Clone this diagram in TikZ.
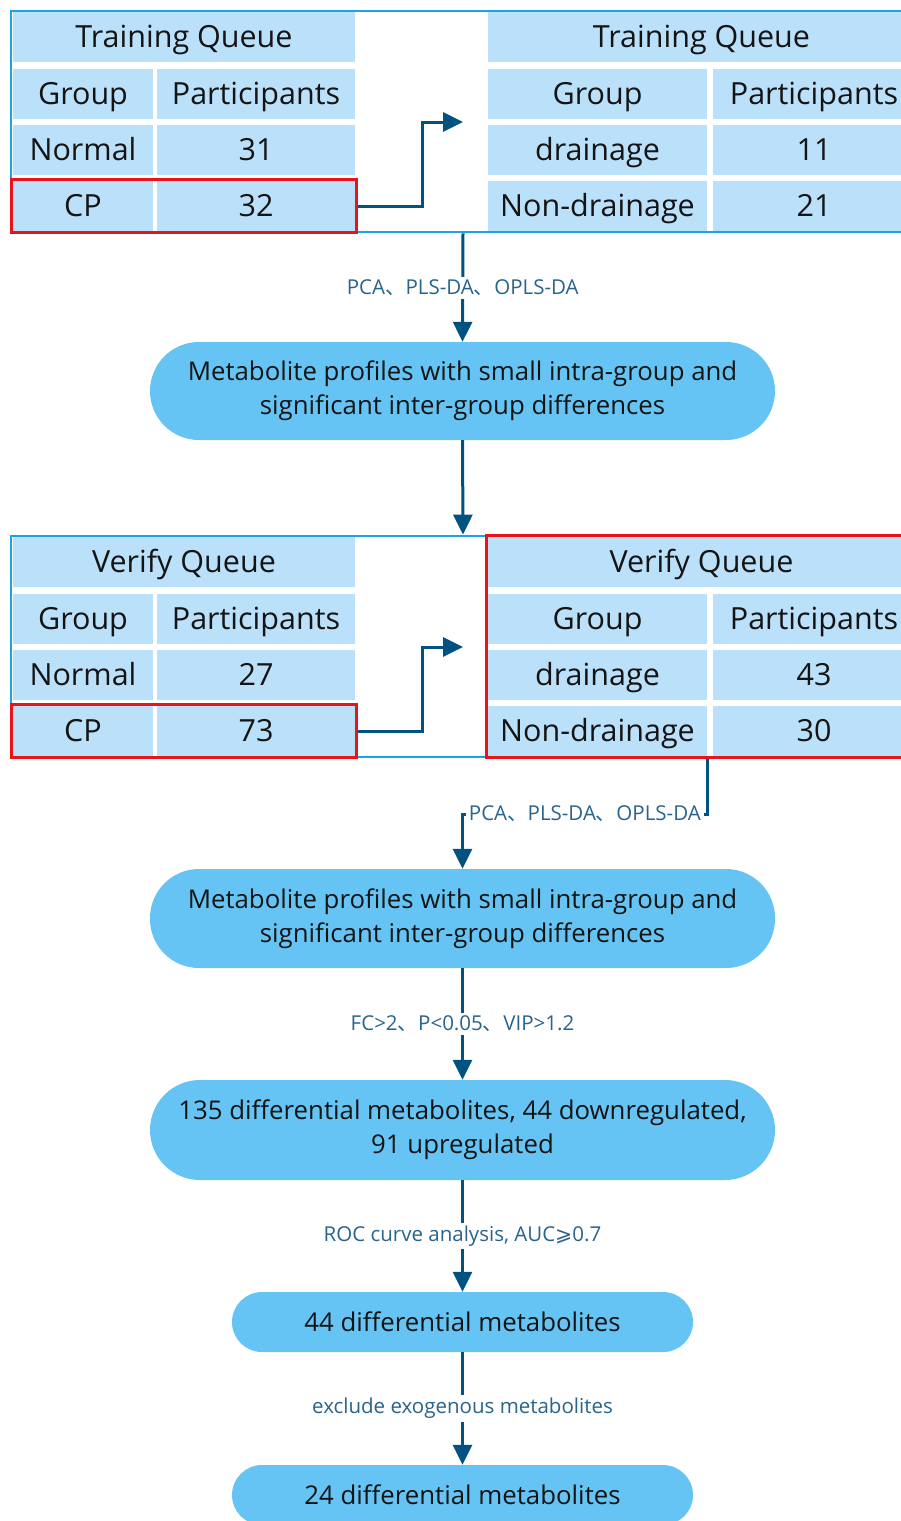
\documentclass[tikz,border=0pt]{standalone}
\usepackage{fontspec}
\setmainfont{Open Sans}
\newfontfamily\cjk{Noto Sans CJK SC}
\newfontfamily\symfont{DejaVu Sans}
\usepackage{tikz}
\usepackage{xcolor}
\usetikzlibrary{arrows.meta,fit}
\definecolor{cellblue}{RGB}{187,224,250}
\definecolor{pillblue}{RGB}{102,196,244}
\definecolor{frameblue}{RGB}{26,163,232}
\definecolor{arrowblue}{RGB}{0,82,128}
\definecolor{noteblue}{RGB}{40,100,140}
\definecolor{markred}{RGB}{232,20,27}
\newcommand{\dun}{{\cjk 、}}
\tikzset{
    table-cell/.style = {fill=cellblue, rectangle, inner sep=0pt, minimum height=50pt, text height=21.8pt, text depth=0pt, text=black!92, font=\fontsize{30.5}{36}\selectfont},
    panel-frame/.style = {draw=frameblue, line width=2.8pt, rectangle, inner sep=0pt},
    mark-box/.style = {draw=markred, line width=2.8pt, rectangle, inner sep=1.5pt},
    pill-box/.style = {fill=pillblue, rectangle, rounded corners=#1, inner sep=0pt, align=center, text=black!92, font=\fontsize{25.8}{34}\selectfont},
    flow/.style = {draw=arrowblue, line width=3pt, -{Triangle[length=20pt,width=19pt]}},
    note/.style = {fill=white, text=noteblue, inner sep=3pt, font=\fontsize{20.5}{24}\selectfont},
}

\begin{document}
\begin{tikzpicture}[x=1pt,y=-1pt]
\clip (0,0) rectangle (901,1521);

\node[table-cell, minimum width=342] (tl-title) at (184,37) {Training Queue};
\node[table-cell, minimum width=140] (tl-group) at (83,94) {Group};
\node[table-cell, minimum width=198] (tl-part) at (256,94) {Participants};
\node[table-cell, minimum width=140] (tl-normal) at (83,150) {Normal};
\node[table-cell, minimum width=198] (tl-normal-n) at (256,150) {31};
\node[table-cell, minimum width=140] (tl-cp) at (83,206) {CP};
\node[table-cell, minimum width=198] (tl-cp-n) at (256,206) {32};

\node[table-cell, minimum width=427] (tr-title) at (701.5,37) {Training Queue};
\node[table-cell, minimum width=219] (tr-group) at (597.5,94) {Group};
\node[table-cell, minimum width=202] (tr-part) at (814,94) {Participants};
\node[table-cell, minimum width=219] (tr-dr) at (597.5,150) {drainage};
\node[table-cell, minimum width=202] (tr-dr-n) at (814,150) {11};
\node[table-cell, minimum width=219] (tr-nd) at (597.5,206) {Non-drainage};
\node[table-cell, minimum width=202] (tr-nd-n) at (814,206) {21};

\node[panel-frame, minimum width=904, minimum height=221] (train-frame) at (463,121.5) {};
\node[mark-box, fit=(tl-cp)(tl-cp-n)] (tl-mark) {};
\coordinate (train-tip) at (463,122);
\draw[flow] (tl-mark.east) -- ++(64,0) |- (train-tip);

\node[pill-box=49pt, minimum width=625, minimum height=98] (prof-a) at (462.5,391) {Metabolite profiles with small intra-group and\\significant inter-group differences};
\draw[flow] (train-frame.south) -- node[note] {PCA\dun PLS-DA\dun OPLS-DA} (prof-a.north);

\node[table-cell, minimum width=342] (vl-title) at (184,562) {Verify Queue};
\node[table-cell, minimum width=140] (vl-group) at (83,619) {Group};
\node[table-cell, minimum width=198] (vl-part) at (256,619) {Participants};
\node[table-cell, minimum width=140] (vl-normal) at (83,675) {Normal};
\node[table-cell, minimum width=198] (vl-normal-n) at (256,675) {27};
\node[table-cell, minimum width=140] (vl-cp) at (83,731) {CP};
\node[table-cell, minimum width=198] (vl-cp-n) at (256,731) {73};

\node[table-cell, minimum width=427] (vr-title) at (701.5,562) {Verify Queue};
\node[table-cell, minimum width=219] (vr-group) at (597.5,619) {Group};
\node[table-cell, minimum width=202] (vr-part) at (814,619) {Participants};
\node[table-cell, minimum width=219] (vr-dr) at (597.5,675) {drainage};
\node[table-cell, minimum width=202] (vr-dr-n) at (814,675) {43};
\node[table-cell, minimum width=219] (vr-nd) at (597.5,731) {Non-drainage};
\node[table-cell, minimum width=202] (vr-nd-n) at (814,731) {30};

\node[panel-frame, minimum width=904, minimum height=221] (verify-frame) at (463,646.5) {};
\node[mark-box, fit=(vl-cp)(vl-cp-n)] (vl-mark) {};
\node[mark-box, fit=(vr-title)(vr-nd-n)] (vr-mark) {};
\coordinate (verify-tip) at (463,647);
\draw[flow] (vl-mark.east) -- ++(64,0) |- (verify-tip);
\draw[flow] (prof-a.south) -- (verify-frame.north);

\node[pill-box=49pt, minimum width=625, minimum height=99] (prof-b) at (462.5,918.5) {Metabolite profiles with small intra-group and\\significant inter-group differences};
\draw[flow] (vr-nd.east |- vr-mark.south) -- ++(0,55) -| node[note, pos=0.25] {PCA\dun PLS-DA\dun OPLS-DA} (prof-b.north);

\node[pill-box=50pt, minimum width=625, minimum height=100] (diff-all) at (462.5,1130) {135 differential metabolites, 44 downregulated,\\91 upregulated};
\draw[flow] (prof-b.south) -- node[note] {FC>2\dun P<0.05\dun VIP>1.2} (diff-all.north);

\node[pill-box=30pt, minimum width=461, minimum height=60] (diff-roc) at (462.5,1322) {44 differential metabolites};
\draw[flow] (diff-all.south) -- node[note] {ROC curve analysis, AUC{\symfont ⩾}0.7} (diff-roc.north);

\node[pill-box=30pt, minimum width=461, minimum height=60] (diff-end) at (462.5,1495) {24 differential metabolites};
\draw[flow] (diff-roc.south) -- node[note] {exclude exogenous metabolites} (diff-end.north);
\end{tikzpicture}
\end{document}
